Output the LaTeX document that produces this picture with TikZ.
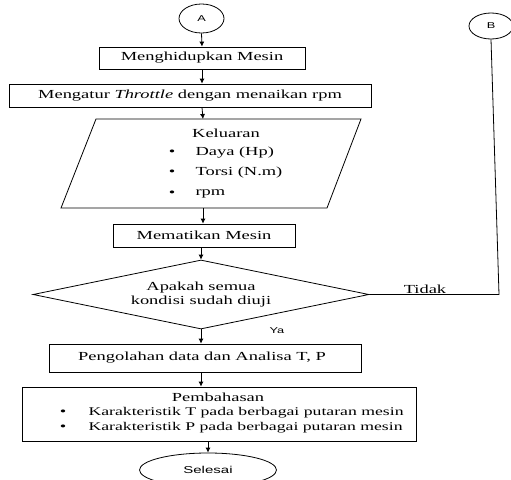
\documentclass[tikz,border=0pt]{standalone}
\usepackage{fontspec}
\setmainfont{Liberation Serif}[FakeStretch=1.5]
\newfontfamily\arialx{Liberation Sans}[FakeStretch=1.5]
\usetikzlibrary{shapes.geometric,arrows.meta}
\begin{document}
\begin{tikzpicture}[x=1pt,y=-1pt,
  every node/.style={font=\fontsize{12.3}{14}\selectfont},
  procbox/.style={draw,line width=0.8pt,inner sep=0pt},
  term/.style={draw,ellipse,line width=0.8pt,inner sep=0pt},
  conn/.style={line width=0.8pt,-{Latex[length=5pt,width=5pt]}},
  plainline/.style={line width=0.8pt}]
\useasboundingbox (0,0) rectangle (511,479);
% terminals
\node[term,minimum width=45pt,minimum height=29pt,font=\arialx\fontsize{8.5}{10}\selectfont] (A) at (201.5,18.5) {A};
\node[term,minimum width=44pt,minimum height=26pt,font=\arialx\fontsize{8.5}{10}\selectfont] (B) at (491,26) {B};
% boxes
\node[procbox,minimum width=206pt,minimum height=22pt] (b1) at (202,58) {Menghidupkan Mesin};
\node[procbox,minimum width=362pt,minimum height=23pt] (b2) at (190,95.5) {Mengatur \textit{Throttle} dengan menaikan rpm};
% parallelogram
\node[minimum width=266pt,minimum height=89pt,inner sep=0pt] (par) at (211,163.5) {};
\draw[plainline] (96,119) -- (361,119) -- (327,208) -- (61,208) -- cycle;
\coordinate (parTop) at (203,119);
\coordinate (parBot) at (203,208);
\node (kel) at (226,133) {Keluaran};
\node[anchor=west] (d1) at (192,153) {Daya (Hp)};
\node[anchor=west] (d2) at (192,173) {Torsi (N.m)};
\node[anchor=west] (d3) at (192,194) {rpm};
\node (u1) at (172,153) {\textbullet};
\node (u2) at (172,173) {\textbullet};
\node (u3) at (172,194) {\textbullet};
\node[procbox,minimum width=182pt,minimum height=23pt] (b3) at (204,235.5) {Mematikan Mesin};
% decision
\node[draw,diamond,line width=0.8pt,inner sep=0pt,minimum width=336pt,minimum height=69pt,aspect=4.87,align=center,font=\fontsize{12.3}{14}\selectfont] (dec) at (201,294.5) {Apakah semua\\kondisi sudah diuji};
\node[procbox,minimum width=312pt,minimum height=28pt] (b4) at (205,358) {\hspace*{-6pt}Pengolahan data dan Analisa T, P};
\node[procbox,minimum width=394pt,minimum height=54pt] (b5) at (219,414) {};
\node (pb) at (218,397) {Pembahasan};
\node[anchor=west,font=\fontsize{11.8}{14}\selectfont] (k1) at (85,413) {Karakteristik T pada berbagai putaran mesin};
\node[anchor=west,font=\fontsize{11.8}{14}\selectfont] (k2) at (85,428) {Karakteristik P pada berbagai putaran mesin};
\node (v1) at (63,413) {\textbullet};
\node (v2) at (63,428) {\textbullet};
\node[term,minimum width=137pt,minimum height=34pt,font=\arialx\fontsize{10}{12}\selectfont] (end) at (208,470) {Selesai};
% connectors
\draw[conn] (A.south) -- (b1.north);
\draw[conn] (b1.south) -- (b1.south |- b2.north);
\draw[conn] (b1.south |- b2.south) -- (parTop);
\draw[conn] (parBot) -- (parBot |- b3.north);
\draw[conn] (dec.north |- b3.south) -- (dec.north);
\draw[conn] (dec.south) -- (dec.south |- b4.north);
\draw[conn] (dec.south |- b4.south) -- (dec.south |- b5.north);
\draw[conn] (end.north |- b5.south) -- (end.north);
\coordinate (corner) at (499,294.5);
\draw[plainline] (dec.east) -- (corner) -- (B.south);
\node (tidak) at (425,289) {Tidak};
\node[font=\arialx\fontsize{8.5}{10}\selectfont] (ya) at (277,331) {Ya};
\end{tikzpicture}
\end{document}
